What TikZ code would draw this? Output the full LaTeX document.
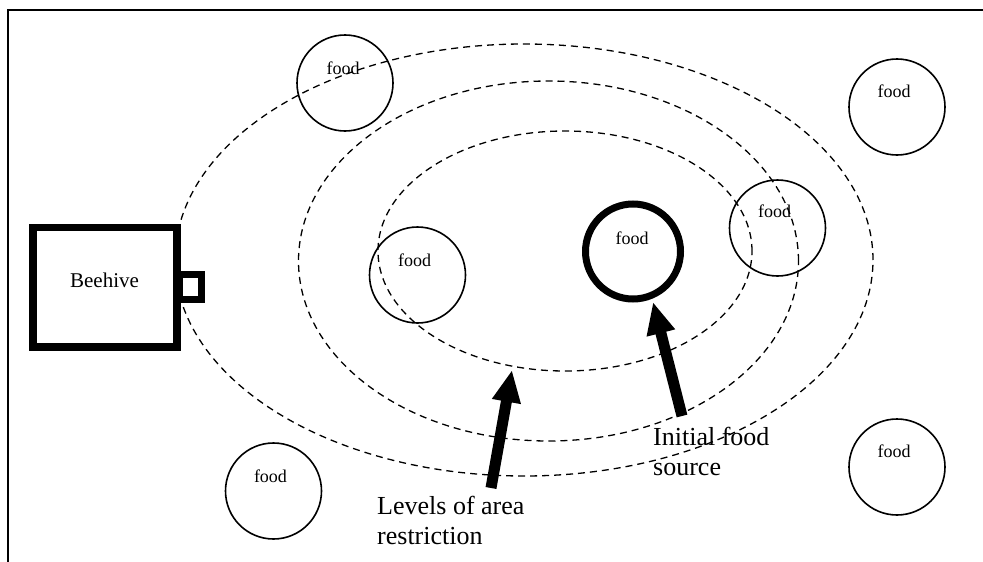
\documentclass[tikz,border=0pt]{standalone}
\usepackage{fontspec}
\setmainfont{Liberation Serif}
\usetikzlibrary{arrows.meta}
\begin{document}
\begin{tikzpicture}[x=1pt,y=-1pt,
  foodc/.style={draw, circle, line width=1.6pt, minimum size=96pt, inner sep=0pt},
  foodbold/.style={draw, circle, line width=7pt, minimum size=95pt, inner sep=0pt},
  foodt/.style={anchor=base, inner sep=0pt, font=\fontsize{18}{20}\selectfont},
  zone/.style={draw, line width=1.3pt, dash pattern=on 7pt off 5pt},
  bigarrow/.style={line width=11pt, -{Triangle[length=32pt,width=27pt]}},
  lbl/.style={anchor=north west, align=left, inner sep=0pt, font=\fontsize{26}{30}\selectfont}
]
\useasboundingbox (0,0) rectangle (983,562);
% frame
\draw[line width=2.2pt] (8,562) -- (8,10) -- (983,10);
% area restriction levels
\draw[zone] (524,260) ellipse [x radius=349pt, y radius=216pt];
\draw[zone] (548.5,261) ellipse [x radius=250pt, y radius=180pt];
\draw[zone] (565,251) ellipse [x radius=187pt, y radius=120pt];
% beehive
\node[draw, line width=7.5pt, fill=white, minimum width=144pt, minimum height=119.5pt, inner sep=0pt] (hive) at (105,287.25) {};
\node[anchor=base, inner sep=0pt, font=\fontsize{21}{24}\selectfont] (hivet) at (104.5,287) {Beehive};
\node[draw, line width=7pt, fill=white, minimum width=22pt, minimum height=25pt, inner sep=0pt] (door) at (190.5,287) {};
% food sources
\node[foodc] (f1) at (345,83) {};
\node[foodt] (t1) at ([shift={(-2,-9)}]f1.center) {food};
\node[foodc] (f2) at (897,107) {};
\node[foodt] (t2) at ([shift={(-3,-10)}]f2.center) {food};
\node[foodc] (f3) at (777.5,228) {};
\node[foodt] (t3) at ([shift={(-3,-11)}]f3.center) {food};
\node[foodc] (f4) at (417.5,275) {};
\node[foodt] (t4) at ([shift={(-3,-9)}]f4.center) {food};
\node[foodbold] (f0) at (633,251.5) {};
\node[foodt] (t0) at ([shift={(-1,-7.5)}]f0.center) {food};
\node[foodc] (f5) at (273.5,491) {};
\node[foodt] (t5) at ([shift={(-3,-9)}]f5.center) {food};
\node[foodc] (f6) at (897,467) {};
\node[foodt] (t6) at ([shift={(-3,-10)}]f6.center) {food};
% labels
\node[lbl] (levels) at (377,496) {Levels of area\\restriction};
\node[lbl] (initial) at (653,427) {Initial food\\source};
% arrows
\coordinate (a1tail) at (491,488);
\coordinate (a1tip) at (512,370);
\coordinate (a2tail) at (682,416);
\coordinate (a2tip) at (653,302);
\draw[bigarrow] (a1tail) -- (a1tip);
\draw[bigarrow] (a2tail) -- (a2tip);
\end{tikzpicture}
\end{document}
